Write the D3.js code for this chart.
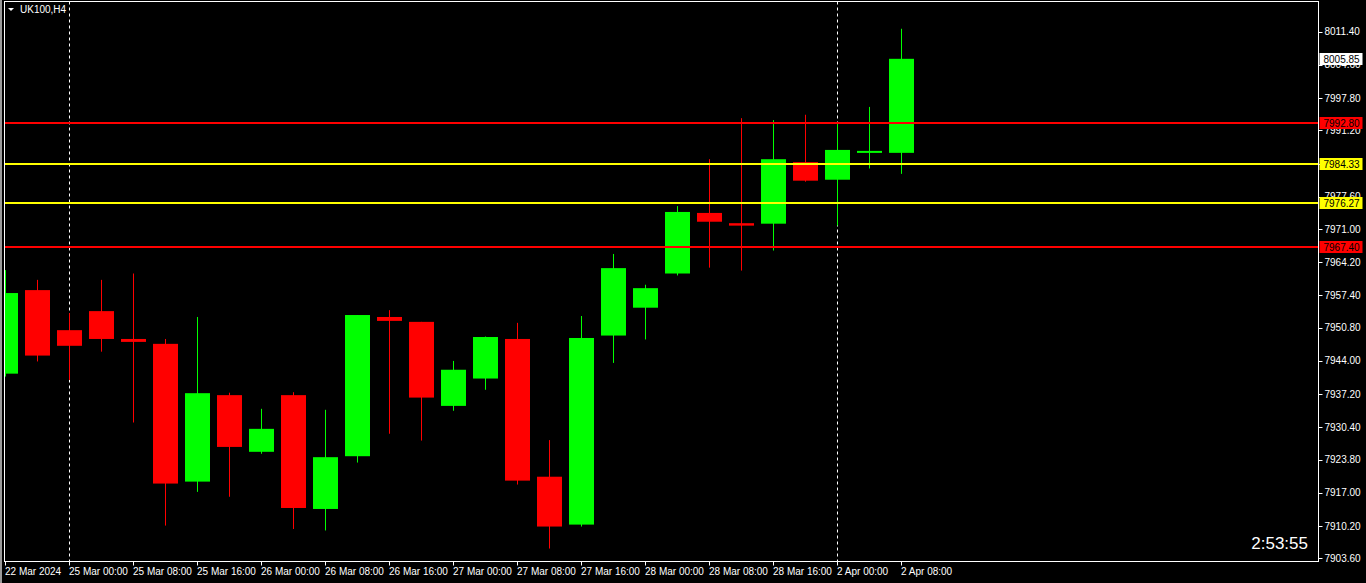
<!DOCTYPE html>
<html>
<head>
<meta charset="utf-8">
<script src="https://cdn.jsdelivr.net/npm/d3@7"></script>
<style>
  html, body { margin: 0; padding: 0; background: #000; overflow: hidden; }
  svg { display: block; }
  text { font-family: "Liberation Sans", Arial, sans-serif; }
</style>
</head>
<body>
<div id="chart"></div>
<script>
// UK100 H4 candles
const times = [
  '22 Mar 16:00', '22 Mar 20:00',
  '25 Mar 00:00', '25 Mar 04:00', '25 Mar 08:00', '25 Mar 12:00', '25 Mar 16:00', '25 Mar 20:00',
  '26 Mar 00:00', '26 Mar 04:00', '26 Mar 08:00', '26 Mar 12:00', '26 Mar 16:00', '26 Mar 20:00',
  '27 Mar 00:00', '27 Mar 04:00', '27 Mar 08:00', '27 Mar 12:00', '27 Mar 16:00', '27 Mar 20:00',
  '28 Mar 00:00', '28 Mar 04:00', '28 Mar 08:00', '28 Mar 12:00', '28 Mar 16:00', '28 Mar 20:00',
  '2 Apr 00:00', '2 Apr 04:00', '2 Apr 08:00'
];
const opens  = [7941.4, 7958.5, 7950.3, 7954.2, 7948.5, 7947.5, 7919.3, 7937.0, 7925.4, 7937.0, 7913.7, 7924.5, 7953.0, 7952.0, 7934.8, 7940.4, 7948.5, 7920.3, 7910.5, 7949.2, 7954.9, 7961.9, 7974.3, 7972.2, 7972.1, 7984.7, 7981.1, 7986.6, 7986.6];
const highs  = [7962.6, 7960.6, 7953.8, 7960.6, 7961.9, 7948.5, 7953.0, 7937.5, 7934.2, 7937.6, 7934.0, 7953.4, 7954.4, 7952.0, 7944.0, 7949.0, 7951.8, 7927.8, 7953.2, 7965.9, 7959.6, 7975.7, 7985.3, 7993.7, 7993.3, 7994.4, 7992.7, 7996.0, 8012.0];
const lows   = [7940.8, 7943.9, 7940.1, 7945.9, 7931.4, 7910.3, 7917.2, 7916.2, 7925.0, 7909.6, 7909.3, 7923.2, 7929.1, 7927.7, 7933.8, 7938.1, 7918.7, 7905.6, 7910.1, 7943.6, 7948.4, 7961.5, 7963.1, 7962.5, 7966.6, 7980.7, 7971.7, 7983.4, 7982.3];
const closes = [7957.9, 7945.1, 7947.1, 7948.5, 7947.9, 7918.9, 7937.4, 7926.4, 7930.1, 7913.9, 7924.3, 7953.4, 7952.2, 7936.5, 7942.2, 7948.9, 7919.5, 7910.1, 7948.7, 7963.0, 7958.9, 7974.5, 7972.5, 7971.7, 7985.3, 7980.9, 7987.2, 7987.0, 8005.85];

const timeLabels = ['22 Mar 2024', '25 Mar 00:00', '25 Mar 08:00', '25 Mar 16:00', '26 Mar 00:00', '26 Mar 08:00',
  '26 Mar 16:00', '27 Mar 00:00', '27 Mar 08:00', '27 Mar 16:00', '28 Mar 00:00', '28 Mar 08:00',
  '28 Mar 16:00', '2 Apr 00:00', '2 Apr 08:00'];
const labelAt = ['22 Mar 16:00', '25 Mar 00:00', '25 Mar 08:00', '25 Mar 16:00', '26 Mar 00:00', '26 Mar 08:00',
  '26 Mar 16:00', '27 Mar 00:00', '27 Mar 08:00', '27 Mar 16:00', '28 Mar 00:00', '28 Mar 08:00',
  '28 Mar 16:00', '2 Apr 00:00', '2 Apr 08:00'];
const separators = ['25 Mar 00:00', '2 Apr 00:00'];

const priceTicks = [8011.40, 8004.60, 7997.80, 7991.20, 7984.40, 7977.60, 7971.00, 7964.20, 7957.40,
  7950.80, 7944.00, 7937.20, 7930.40, 7923.80, 7917.00, 7910.20, 7903.60];

const levelPrices = [7992.80, 7984.33, 7976.27, 7967.40];
const levelColors = ['#ff0000', '#ffff00', '#ffff00', '#ff0000'];
const lastPrice = 8005.85;

const width = 1366, height = 583;
const plot = { left: 4.5, right: 1318.5, top: 1.5, bottom: 561.5 };

const svg = d3.select('#chart').append('svg')
  .attr('width', width)
  .attr('height', height);

svg.append('rect').attr('width', width).attr('height', height).attr('fill', '#000');
svg.append('rect').attr('x', 0).attr('y', 0).attr('width', 2).attr('height', height).attr('fill', '#9a9a9a');

const x = d3.scalePoint().domain(times).range([5, 901]);
const y = d3.scaleLinear().domain([7903.6, 8011.4]).range([558.3, 31.7]);

svg.append('clipPath').attr('id', 'plotClip')
  .append('rect')
  .attr('x', plot.left).attr('y', plot.top)
  .attr('width', plot.right - plot.left).attr('height', plot.bottom - plot.top);

const g = svg.append('g').attr('clip-path', 'url(#plotClip)');

// week separators
g.selectAll('.sep')
  .data(separators)
  .enter()
  .append('line')
  .attr('x1', d => x(d) + 0.5).attr('x2', d => x(d) + 0.5)
  .attr('y1', plot.top).attr('y2', plot.bottom)
  .attr('stroke', '#fff')
  .attr('stroke-width', 1)
  .attr('stroke-dasharray', '3,3');

const candles = times.map((t, i) => ({ t, o: opens[i], h: highs[i], l: lows[i], c: closes[i] }));
const colorOf = d => d.c >= d.o ? '#00ff00' : '#ff0000';

// wicks
g.selectAll('.wick')
  .data(candles)
  .enter()
  .append('rect')
  .attr('x', d => x(d.t))
  .attr('y', d => y(d.h))
  .attr('width', 1)
  .attr('height', d => y(d.l) - y(d.h))
  .attr('fill', colorOf);

// bodies
g.selectAll('.body')
  .data(candles)
  .enter()
  .append('rect')
  .attr('x', d => x(d.t) - 12)
  .attr('y', d => y(Math.max(d.o, d.c)))
  .attr('width', 25)
  .attr('height', d => Math.max(2, Math.abs(y(d.o) - y(d.c))))
  .attr('fill', colorOf);

// horizontal levels
g.selectAll('.level')
  .data(levelPrices)
  .enter()
  .append('line')
  .attr('x1', plot.left).attr('x2', plot.right)
  .attr('y1', d => Math.round(y(d)))
  .attr('y2', d => Math.round(y(d)))
  .attr('stroke', (d, i) => levelColors[i])
  .attr('stroke-width', 2);

// frame
svg.append('rect')
  .attr('x', plot.left).attr('y', plot.top)
  .attr('width', plot.right - plot.left).attr('height', plot.bottom - plot.top)
  .attr('fill', 'none')
  .attr('stroke', '#fff')
  .attr('stroke-width', 1);

// price axis
const yAxis = svg.append('g');
yAxis.selectAll('.ytick')
  .data(priceTicks)
  .enter()
  .append('line')
  .attr('x1', plot.right).attr('x2', plot.right + 4)
  .attr('y1', d => Math.round(y(d)) + 0.5).attr('y2', d => Math.round(y(d)) + 0.5)
  .attr('stroke', '#fff');
yAxis.selectAll('.ylab')
  .data(priceTicks)
  .enter()
  .append('text')
  .attr('x', plot.right + 6)
  .attr('y', d => y(d))
  .attr('dy', '0.35em')
  .attr('fill', '#fff')
  .style('font-size', '10px')
  .text(d => d.toFixed(2));

// price labels for levels and last price
const tags = levelPrices.map((p, i) => ({ p, bg: levelColors[i] })).concat([{ p: lastPrice, bg: '#fff' }]);
const tag = svg.selectAll('.tag')
  .data(tags)
  .enter()
  .append('g')
  .attr('transform', d => `translate(${plot.right + 1},${Math.round(y(d.p))})`);
tag.append('rect')
  .attr('x', 0).attr('y', -6)
  .attr('width', 43).attr('height', 12)
  .attr('fill', d => d.bg);
tag.append('text')
  .attr('x', 4).attr('y', 0)
  .attr('dy', '0.35em')
  .attr('fill', '#000')
  .style('font-size', '10px')
  .text(d => d.p.toFixed(2));

// time axis
const xAxis = svg.append('g');
xAxis.selectAll('.xtick')
  .data(labelAt)
  .enter()
  .append('line')
  .attr('x1', d => x(d) + 0.5).attr('x2', d => x(d) + 0.5)
  .attr('y1', plot.bottom).attr('y2', plot.bottom + 4)
  .attr('stroke', '#fff');
xAxis.selectAll('.xlab')
  .data(labelAt)
  .enter()
  .append('text')
  .attr('x', d => x(d))
  .attr('y', 575)
  .attr('fill', '#fff')
  .style('font-size', '10px')
  .text((d, i) => timeLabels[i]);

// title
svg.append('path')
  .attr('d', 'M8,8 L14,8 L11,11 Z')
  .attr('fill', '#fff');
svg.append('text')
  .attr('x', 20).attr('y', 13)
  .attr('fill', '#fff')
  .style('font-size', '10px')
  .text('UK100,H4');

// bar countdown
svg.append('text')
  .attr('x', 1308).attr('y', 549)
  .attr('text-anchor', 'end')
  .attr('fill', '#fff')
  .style('font-size', '17px')
  .text('2:53:55');
</script>
</body>
</html>
